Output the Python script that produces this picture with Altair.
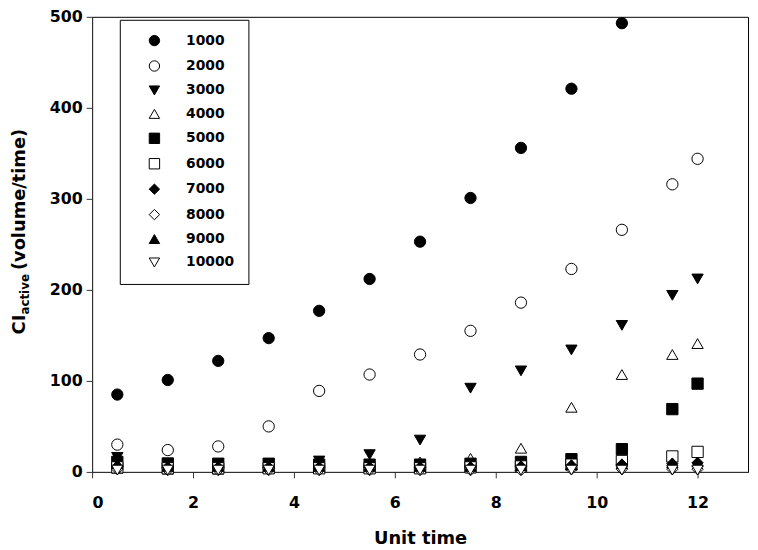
import altair as alt
import pandas as pd

F = "DejaVu Sans"

x_vals = [0.5, 1.5, 2.5, 3.5, 4.5, 5.5, 6.5, 7.5, 8.5, 9.5, 10.5, 11.5, 12.0]
series_names = ["1000", "2000", "3000", "4000", "5000", "6000", "7000", "8000", "9000", "10000"]

s1000 = [85, 101, 122, 147, 177, 212, 253, 301, 356, 421, 493, None, None]
s2000 = [30, 24, 28, 50, 89, 107, 129, 155, 186, 223, 266, 316, 344]
s3000 = [16, 10, 9, 9, 12, 19, 35, 92, 111, 134, 161, 194, 212]
s4000 = [4, 3, 3, 4, 6, 7, 11, 15, 26, 71, 107, 129, 141]
s5000 = [11, 9, 9, 9, 8, 8, 8, 9, 11, 14, 25, 69, 97]
s6000 = [5, 4, 4, 4, 4, 4, 4, 5, 6, 8, 12, 17, 22]
s7000 = [6, 5, 5, 5, 5, 5, 5, 5, 6, 7, 8, 9, 10]
s8000 = [3, 2, 2, 2, 2, 2, 2, 2, 2, 3, 3, 3, 3]
s9000 = [9, 6, 6, 6, 6, 6, 6, 6, 7, 8, 9, 10, 11]
s10000 = [2, 2, 2, 2, 2, 2, 2, 2, 2, 2, 2, 2, 2]

all_series = [s1000, s2000, s3000, s4000, s5000, s6000, s7000, s8000, s9000, s10000]
shapes = ["circle", "circle", "triangle-down", "triangle-up", "square", "square",
          "diamond", "diamond", "triangle-up", "triangle-down"]
fills = ["black", "white", "black", "white", "black", "white", "black", "white", "black", "white"]
strokes = ["black"] * 10

x_ticks = [0, 2, 4, 6, 8, 10, 12]
y_ticks = [0, 100, 200, 300, 400, 500]

rows = []
for name, vals in zip(series_names, all_series):
    for xv, yv in zip(x_vals, vals):
        if yv is not None:
            rows.append({"x": xv, "y": yv, "series": name})
df = pd.DataFrame(rows)

legend = alt.Legend(
    title=None, orient="none", legendX=28, legendY=3,
    strokeColor="black", fillColor="white", padding=14,
    symbolOffset=14, labelOffset=25, rowPadding=9.7,
    labelFont=F, labelFontWeight="bold", labelFontSize=14, labelColor="black",
    symbolSize=110, symbolStrokeColor="black", symbolStrokeWidth=1,
)

points = alt.Chart(df).mark_point(filled=False, opacity=1, strokeWidth=1, size=130).encode(
    x=alt.X("x:Q", scale=alt.Scale(domain=[0, 13], nice=False, zero=False),
            axis=alt.Axis(values=x_ticks, title="Unit time", labelPadding=17, titlePadding=19)),
    y=alt.Y("y:Q", scale=alt.Scale(domain=[0, 500], nice=False),
            axis=alt.Axis(values=y_ticks, title=None, labelPadding=4)),
    shape=alt.Shape("series:N", sort=series_names,
                    scale=alt.Scale(domain=series_names, range=shapes), legend=legend),
    fill=alt.Fill("series:N", sort=series_names,
                  scale=alt.Scale(domain=series_names, range=fills), legend=legend),
    stroke=alt.Stroke("series:N", sort=series_names,
                      scale=alt.Scale(domain=series_names, range=strokes), legend=legend),
)

tdf = pd.DataFrame({"t": [0]})


def vtext(s, xp, yp, size):
    return alt.Chart(tdf).mark_text(
        text=s, angle=270, align="left", baseline="alphabetic",
        font=F, fontWeight="bold", fontSize=size, color="black",
    ).encode(x=alt.value(xp), y=alt.value(yp))


t1 = vtext("CI", -68, 321, 18)
t2 = vtext("active", -64, 301, 12)
t3 = vtext("(volume/time)", -68, 256, 18)

chart = alt.layer(points, t1, t2, t3).properties(
    width=663, height=460,
    padding={"left": 85, "top": 6, "right": 2, "bottom": 76},
    autosize=alt.AutoSizeParams(type="none"),
).configure_view(
    stroke="black", strokeWidth=1
).configure_axis(
    domainColor="#333", tickColor="#333", tickSize=6, grid=False,
    labelFont=F, labelFontWeight="bold", labelFontSize=16, labelColor="black",
    titleFont=F, titleFontWeight="bold", titleFontSize=18, titleColor="black",
)

chart.save("out.html", embed_options={"renderer": "svg", "actions": False})
